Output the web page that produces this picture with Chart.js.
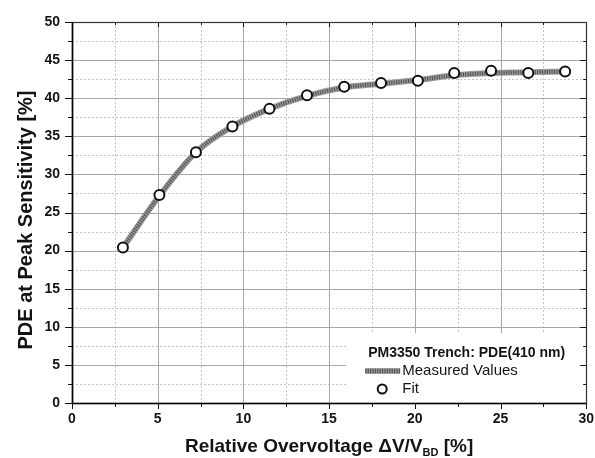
<!DOCTYPE html>
<html>
<head>
<meta charset="utf-8">
<script src="https://cdn.jsdelivr.net/npm/chart.js@4/dist/chart.umd.min.js"></script>
<style>
  html, body { margin: 0; padding: 0; background: #fff; }
  #wrap { width: 595px; height: 458px; }
</style>
</head>
<body>
<div id="wrap"><canvas id="c" width="595" height="458"></canvas></div>
<script>
// Relative overvoltage ΔV/V_BD [%] of each operating point
const overvoltage = [2.97, 5.10, 7.23, 9.36, 11.52, 13.71, 15.88, 18.03, 20.18, 22.30, 24.45, 26.62, 28.77];
// PDE at peak sensitivity [%], measured curve
const pdeMeasured = [20.4, 27.2, 32.9, 36.3, 38.6, 40.3, 41.4, 41.9, 42.4, 43.0, 43.3, 43.4, 43.5];
// PDE at peak sensitivity [%], fit points
const pdeFit = [20.4, 27.3, 32.9, 36.3, 38.6, 40.4, 41.5, 42.0, 42.3, 43.3, 43.6, 43.3, 43.5];
// Labelled ticks
const xTickLabels = [0, 5, 10, 15, 20, 25, 30];
const yTickLabels = [0, 5, 10, 15, 20, 25, 30, 35, 40, 45, 50];

const legendTitle = 'PM3350 Trench: PDE(410 nm)';
const legendMeasured = 'Measured Values';
const legendFit = 'Fit';
const yTitle = 'PDE at Peak Sensitivity [%]';
const xTitleMain = 'Relative Overvoltage \u0394V/V';
const xTitleSub = 'BD';
const xTitleTail = ' [%]';

const FONT = "'Liberation Sans', Arial, Helvetica, sans-serif";
const TEXT = '#141414';
const LINE_BASE = '#9c9c9c';
const LINE_HATCH = '#555555';

Chart.defaults.font.family = FONT;
Chart.defaults.color = TEXT;

const toXY = (xs, ys) => xs.map((v, i) => ({ x: v, y: ys[i] }));
const isMajor = v => Math.abs(v / 5 - Math.round(v / 5)) < 1e-6;
const crisp = p => Math.round(p) + 0.5;

// Grid lines: dotted minor lines every 2.5, solid major lines every 5
const gridPlugin = {
  id: 'gridPlugin',
  beforeDatasetsDraw(chart) {
    const { ctx, chartArea: a, scales: { x, y } } = chart;
    ctx.save();
    ctx.lineWidth = 1;
    for (const pass of ['minor', 'major']) {
      if (pass === 'minor') { ctx.strokeStyle = '#c4c4c4'; ctx.setLineDash([2, 2]); }
      else { ctx.strokeStyle = '#a8a8a8'; ctx.setLineDash([]); }
      x.ticks.forEach(t => {
        if ((pass === 'major') !== isMajor(t.value)) return;
        const p = crisp(x.getPixelForValue(t.value));
        ctx.beginPath(); ctx.moveTo(p, a.top); ctx.lineTo(p, a.bottom); ctx.stroke();
      });
      y.ticks.forEach(t => {
        if ((pass === 'major') !== isMajor(t.value)) return;
        const p = crisp(y.getPixelForValue(t.value));
        ctx.beginPath(); ctx.moveTo(a.left, p); ctx.lineTo(a.right, p); ctx.stroke();
      });
    }
    ctx.restore();
  }
};

// Legend box in the lower right corner of the plot
const legendPlugin = {
  id: 'legendPlugin',
  afterDatasetsDraw(chart) {
    const { ctx, chartArea: a } = chart;
    const left = a.right - 240, top = a.bottom - 70;
    ctx.save();
    ctx.fillStyle = '#fff';
    ctx.fillRect(left, top, a.right - left, a.bottom - top);
    ctx.fillStyle = TEXT;
    ctx.textBaseline = 'middle';
    ctx.textAlign = 'left';
    ctx.font = 'bold 14px ' + FONT;
    ctx.fillText(legendTitle, left + 22, top + 20);
    // line sample
    const ly = top + 38;
    ctx.lineCap = 'butt';
    ctx.strokeStyle = LINE_BASE; ctx.lineWidth = 6;
    ctx.beginPath(); ctx.moveTo(left + 19, ly); ctx.lineTo(left + 54, ly); ctx.stroke();
    ctx.strokeStyle = LINE_HATCH; ctx.lineWidth = 4; ctx.setLineDash([1.2, 1.2]);
    ctx.beginPath(); ctx.moveTo(left + 19, ly); ctx.lineTo(left + 54, ly); ctx.stroke();
    ctx.setLineDash([]);
    ctx.font = '15px ' + FONT;
    ctx.fillText(legendMeasured, left + 56, ly);
    // circle sample
    const cy = top + 56;
    ctx.beginPath(); ctx.arc(left + 36, cy, 4.5, 0, Math.PI * 2);
    ctx.fillStyle = '#fff'; ctx.fill();
    ctx.strokeStyle = '#111'; ctx.lineWidth = 2; ctx.stroke();
    ctx.fillStyle = TEXT;
    ctx.fillText(legendFit, left + 56, cy);
    ctx.restore();
  }
};

// Plot frame, tick marks and axis titles
const framePlugin = {
  id: 'framePlugin',
  afterDraw(chart) {
    const { ctx, chartArea: a, scales: { x, y } } = chart;
    ctx.save();
    ctx.strokeStyle = '#111';
    ctx.lineWidth = 1;
    // outward ticks on left/bottom, inward ticks on right/top
    x.ticks.forEach(t => {
      const p = crisp(x.getPixelForValue(t.value));
      const len = isMajor(t.value) ? 6 : 4;
      ctx.beginPath(); ctx.moveTo(p, a.bottom); ctx.lineTo(p, a.bottom + len); ctx.stroke();
      ctx.beginPath(); ctx.moveTo(p, a.top); ctx.lineTo(p, a.top + len - 1); ctx.stroke();
    });
    y.ticks.forEach(t => {
      const p = crisp(y.getPixelForValue(t.value));
      const len = isMajor(t.value) ? 7 : 4;
      ctx.beginPath(); ctx.moveTo(a.left, p); ctx.lineTo(a.left - len, p); ctx.stroke();
      ctx.beginPath(); ctx.moveTo(a.right, p); ctx.lineTo(a.right - len + 1, p); ctx.stroke();
    });
    // frame
    ctx.lineWidth = 1.2;
    ctx.strokeStyle = '#333';
    ctx.strokeRect(crisp(a.left), crisp(a.top), Math.round(a.right - a.left), Math.round(a.bottom - a.top));
    ctx.lineWidth = 1.6;
    ctx.strokeStyle = '#000';
    ctx.beginPath();
    ctx.moveTo(crisp(a.left), a.top); ctx.lineTo(crisp(a.left), crisp(a.bottom)); ctx.lineTo(a.right, crisp(a.bottom));
    ctx.stroke();

    // y title
    ctx.fillStyle = TEXT;
    ctx.font = 'bold 20px ' + FONT;
    ctx.save();
    ctx.translate(32, 220);
    ctx.rotate(-Math.PI / 2);
    ctx.textAlign = 'center';
    ctx.textBaseline = 'alphabetic';
    ctx.fillText(yTitle, 0, 0);
    ctx.restore();

    // x title with subscript
    const mainFont = 'bold 19px ' + FONT, subFont = 'bold 11px ' + FONT;
    ctx.font = mainFont; const w1 = ctx.measureText(xTitleMain).width; const w3 = ctx.measureText(xTitleTail).width;
    ctx.font = subFont; const w2 = ctx.measureText(xTitleSub).width;
    let tx = (a.left + a.right) / 2 - (w1 + w2 + w3) / 2;
    const base = 452;
    ctx.textAlign = 'left';
    ctx.textBaseline = 'alphabetic';
    ctx.font = mainFont; ctx.fillText(xTitleMain, tx, base); tx += w1;
    ctx.font = subFont; ctx.fillText(xTitleSub, tx, base + 4); tx += w2;
    ctx.font = mainFont; ctx.fillText(xTitleTail, tx, base);
    ctx.restore();
  }
};

new Chart(document.getElementById('c'), {
  type: 'scatter',
  data: {
    datasets: [
      {
        label: legendFit,
        data: toXY(overvoltage, pdeFit),
        showLine: false,
        pointRadius: 5,
        pointBorderWidth: 2,
        pointBackgroundColor: '#fff',
        pointBorderColor: '#111',
        order: 0
      },
      {
        label: legendMeasured,
        data: toXY(overvoltage, pdeMeasured),
        showLine: true,
        pointRadius: 0,
        borderColor: LINE_HATCH,
        borderWidth: 4,
        borderDash: [1.2, 1.2],
        cubicInterpolationMode: 'monotone',
        order: 1
      },
      {
        label: legendMeasured,
        data: toXY(overvoltage, pdeMeasured),
        showLine: true,
        pointRadius: 0,
        borderColor: LINE_BASE,
        borderWidth: 6,
        cubicInterpolationMode: 'monotone',
        order: 2
      }
    ]
  },
  options: {
    responsive: false,
    animation: false,
    devicePixelRatio: 1,
    layout: { padding: { left: 0, right: 7, top: 22, bottom: 0 } },
    plugins: { legend: { display: false }, tooltip: { enabled: false } },
    scales: {
      x: {
        type: 'linear', min: 0, max: 30,
        afterFit: s => { s.height = 55; },
        grid: { drawOnChartArea: false, drawTicks: true, tickLength: 7, tickColor: 'rgba(0,0,0,0)' },
        border: { display: false },
        ticks: {
          stepSize: 2.5, autoSkip: false, maxRotation: 0, padding: 1,
          font: { size: 14, weight: 'bold' }, color: TEXT,
          callback: v => xTickLabels.includes(v) ? String(v) : ''
        }
      },
      y: {
        type: 'linear', min: 0, max: 50,
        afterFit: s => { s.width = 72; },
        grid: { drawOnChartArea: false, drawTicks: true, tickLength: 7, tickColor: 'rgba(0,0,0,0)' },
        border: { display: false },
        ticks: {
          stepSize: 2.5, autoSkip: false, padding: 5,
          font: { size: 14, weight: 'bold' }, color: TEXT,
          callback: v => yTickLabels.includes(v) ? String(v) : ''
        }
      }
    }
  },
  plugins: [gridPlugin, legendPlugin, framePlugin]
});
</script>
</body>
</html>
